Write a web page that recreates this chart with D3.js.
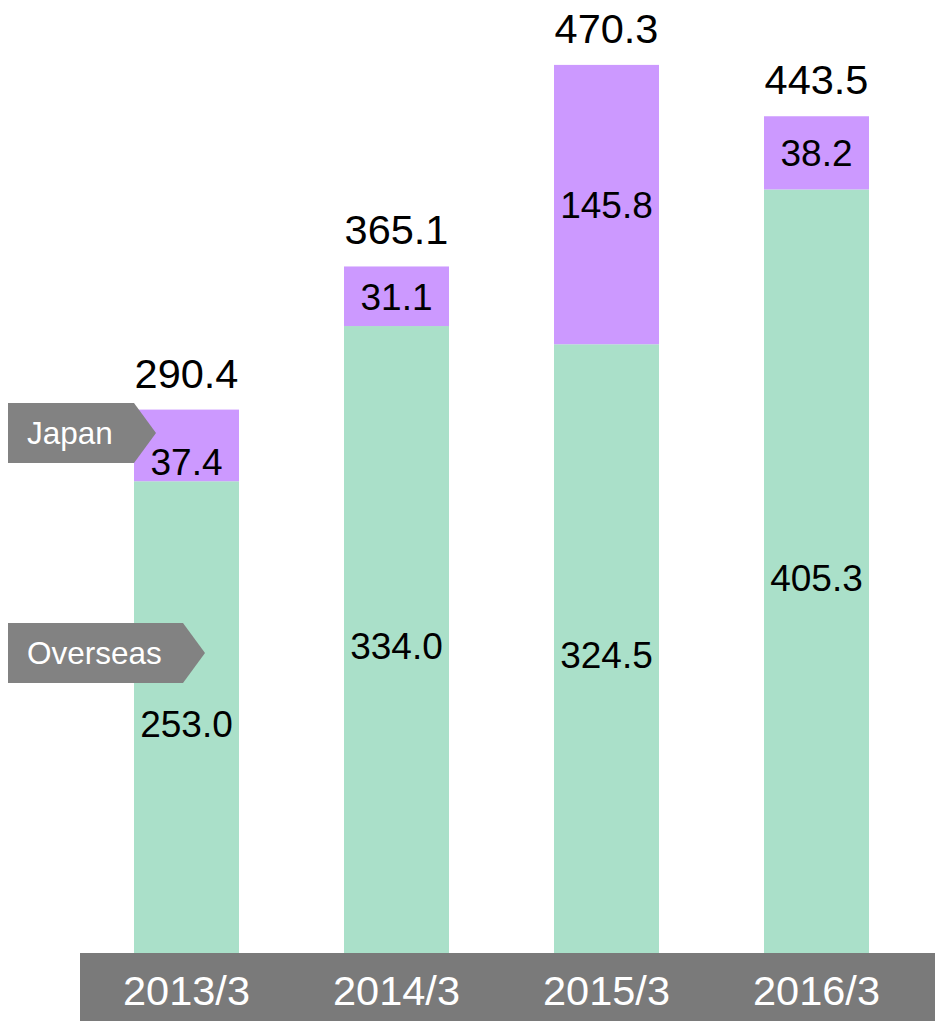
<!DOCTYPE html>
<html>
<head>
<meta charset="utf-8">
<script src="https://cdn.jsdelivr.net/npm/d3@7"></script>
<style>
  html, body { margin: 0; padding: 0; background: #ffffff; }
  svg { display: block; }
  text { font-family: "Liberation Sans", Arial, sans-serif; }
</style>
</head>
<body>
<svg id="chart" width="935" height="1021"></svg>
<script>
// Fiscal years (ending March)
const years = ["2013/3", "2014/3", "2015/3", "2016/3"];
// Sales by region
const overseas = [253.0, 334.0, 324.5, 405.3];
const japan = [37.4, 31.1, 145.8, 38.2];
// Totals shown above each bar
const totals = [290.4, 365.1, 470.3, 443.5];
const seriesNames = ["Overseas", "Japan"];

const colors = { Overseas: "#aae0c9", Japan: "#cc99ff" };

const W = 935, H = 1021;
const svg = d3.select("#chart");

const x = d3.scaleBand()
  .domain(years)
  .range([81.5, 921.5])
  .paddingInner(0.5)
  .paddingOuter(0.25);

// zero sits just beneath the category band
const y = d3.scaleLinear().domain([0, 500]).range([966, 8]);

const rows = years.map((yr, i) => ({ year: yr, Overseas: overseas[i], Japan: japan[i], total: totals[i] }));
const stacked = d3.stack().keys(seriesNames)(rows);

// stacked bars
const layers = svg.append("g").selectAll("g")
  .data(stacked)
  .join("g")
  .attr("fill", d => colors[d.key]);

layers.selectAll("rect")
  .data(d => d)
  .join("rect")
  .attr("x", d => x(d.data.year))
  .attr("width", x.bandwidth())
  .attr("y", d => y(d[1]))
  .attr("height", d => y(d[0]) - y(d[1]));

// segment value labels
const firstJapanDrop = 16; // keeps the first small label clear of the callout
stacked.forEach(layer => {
  svg.append("g").selectAll("text")
    .data(layer)
    .join("text")
    .attr("x", d => x(d.data.year) + x.bandwidth() / 2)
    .attr("y", (d, i) => {
      const c = (y(d[0]) + y(d[1])) / 2;
      return c + (layer.key === "Japan" && i === 0 ? firstJapanDrop : 0);
    })
    .attr("dy", "0.36em")
    .attr("text-anchor", "middle")
    .attr("font-size", 37)
    .attr("fill", "#000")
    .text(d => d.data[layer.key].toFixed(1));
});

// totals above bars
svg.append("g").selectAll("text")
  .data(rows)
  .join("text")
  .attr("x", d => x(d.year) + x.bandwidth() / 2)
  .attr("y", d => y(d.total) - 22)
  .attr("text-anchor", "middle")
  .attr("font-size", 41.5)
  .attr("fill", "#000")
  .text(d => d.total.toFixed(1));

// category band along the bottom
const bandTop = 953;
svg.append("rect")
  .attr("x", 80)
  .attr("y", bandTop)
  .attr("width", W - 80)
  .attr("height", H - bandTop)
  .attr("fill", "#7a7a7a");

const xAxis = svg.append("g")
  .attr("transform", `translate(0,${bandTop})`)
  .call(d3.axisBottom(x).tickSize(0).tickPadding(0));
xAxis.select(".domain").remove();
xAxis.selectAll("text")
  .attr("y", 52)
  .attr("dy", 0)
  .attr("fill", "#ffffff")
  .attr("font-size", 41.5)
  .attr("font-family", "'Liberation Sans', Arial, sans-serif");

// series callouts (arrow tags)
const callouts = [
  { name: "Japan", top: 403, body: 126 },
  { name: "Overseas", top: 623, body: 175 }
];
const tagH = 60, tagTip = 22, tagX = 8;
const tags = svg.append("g").selectAll("g")
  .data(callouts)
  .join("g")
  .attr("transform", d => `translate(${tagX},${d.top})`);
tags.append("path")
  .attr("d", d => `M0,0 H${d.body} L${d.body + tagTip},${tagH / 2} L${d.body},${tagH} H0 Z`)
  .attr("fill", "#828282");
tags.append("text")
  .attr("x", 19)
  .attr("y", tagH / 2)
  .attr("dy", "0.36em")
  .attr("font-size", 31.5)
  .attr("fill", "#ffffff")
  .text(d => d.name);
</script>
</body>
</html>
